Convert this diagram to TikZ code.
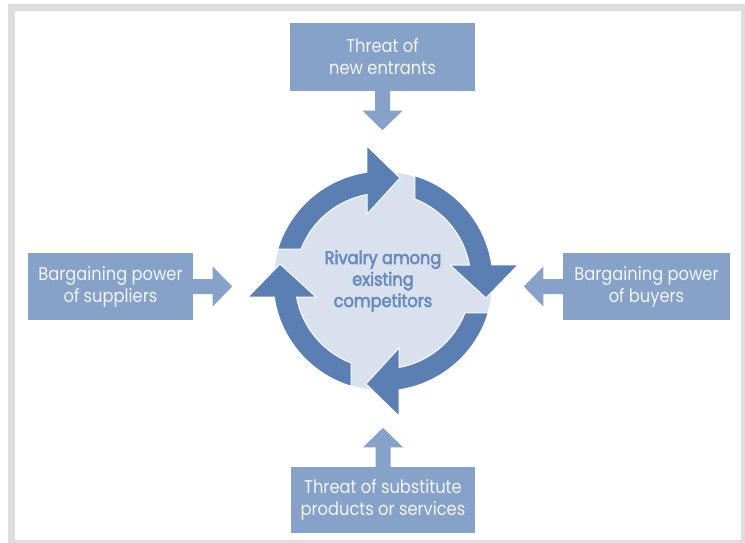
\documentclass[tikz,border=0pt]{standalone}
\usepackage{fontspec}
\setmainfont{Poppins}[FakeStretch=0.88]
\newfontfamily\centerfont{Poppins}[FakeStretch=0.9, FakeBold=3]
\definecolor{framegray}{HTML}{DEDEDE}
\definecolor{boxblue}{HTML}{87A2C8}
\definecolor{ringblue}{HTML}{5B7FB3}
\definecolor{diskfill}{HTML}{D8E1ED}
\definecolor{centertext}{HTML}{6A8BC0}
\definecolor{boxtext}{HTML}{F2F5FA}
\tikzset{
  forcebox/.style={rectangle, fill=boxblue, text=boxtext, align=center, inner sep=0pt,
    font=\fontsize{18.5}{22}\selectfont},
  ringarrow/.style={fill=ringblue, draw=white, line width=1pt, line join=miter},
  blockarrow/.pic={\fill[boxblue] (0,-7.5) -- (19.5,-7.5) -- (19.5,-20) -- (39,0) -- (19.5,20) -- (19.5,7.5) -- (0,7.5) -- cycle;}
}
\begin{document}
\begin{tikzpicture}[x=1pt,y=-1pt]
\useasboundingbox (0,0) rectangle (745,543);
\fill[framegray] (8,4) rectangle (745,543);
\fill[white] (15,11) rectangle (741,540);

\node[forcebox, minimum width=185pt, minimum height=68pt] (entrants) at (382.5,57) {Threat of\\new entrants};
\node[forcebox, minimum width=165pt, minimum height=67pt] (suppliers) at (110.5,286.5) {Bargaining power\\of suppliers};
\node[forcebox, minimum width=167pt, minimum height=67pt] (buyers) at (646.5,286.5) {Bargaining power\\of buyers};
\node[forcebox, minimum width=184pt, minimum height=66pt] (substitutes) at (383,500) {Threat of substitute\\products or services};

\pic[rotate=-90] at (entrants.south) {blockarrow};
\pic at (suppliers.east) {blockarrow};
\pic[rotate=180] at (buyers.west) {blockarrow};
\pic[rotate=90] at (substitutes.north) {blockarrow};

\node[circle, fill=diskfill, minimum size=218pt, inner sep=0pt] (rivalry) at (383,281) {};

\begin{scope}[shift={(383,281)}, y=1pt]
  \foreach \k in {0,1,2,3} {
    \begin{scope}[rotate=-90*\k]
      \filldraw[ringarrow] (163.1:110) arc[start angle=163.1, end angle=98.4, radius=110]
        -- (-16,135) -- (17,103) -- (-16,67) -- (-16,86.5)
        arc[start angle=100.48, end angle=158.7, radius=88] -- cycle;
    \end{scope}
  }
\end{scope}

\node[text=centertext, align=center, font=\centerfont\fontsize{18}{21.5}\selectfont] (rivalrytext) at (rivalry.center) {Rivalry among\\existing\\competitors};
\end{tikzpicture}
\end{document}
